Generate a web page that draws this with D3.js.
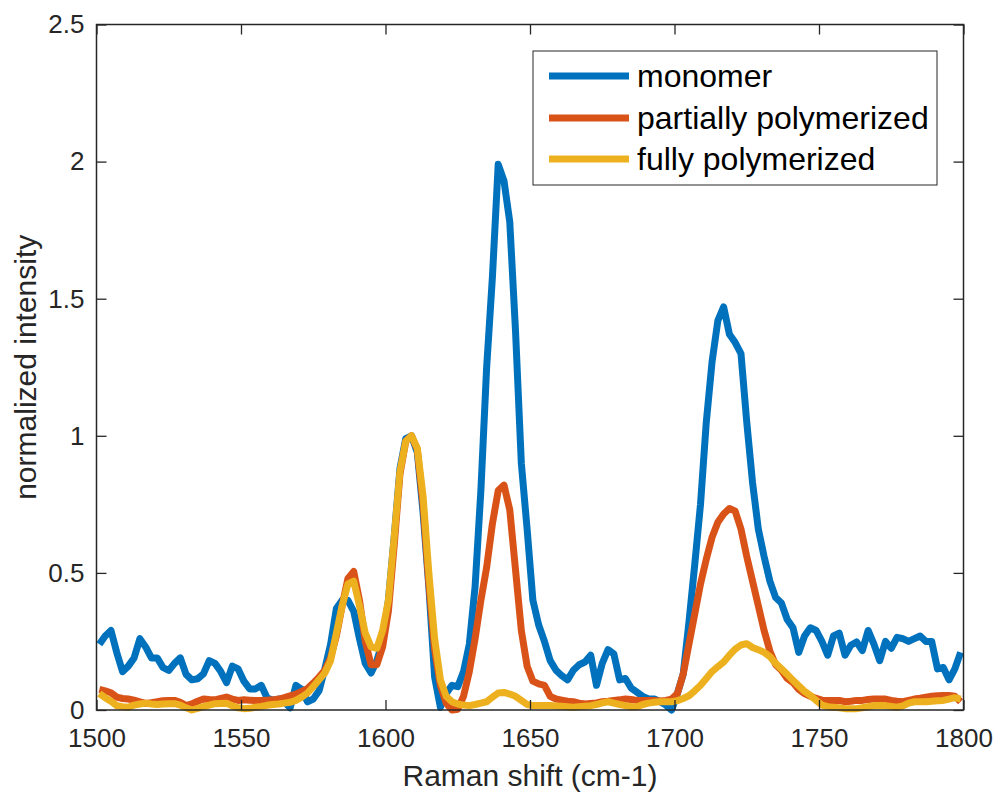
<!DOCTYPE html>
<html>
<head>
<meta charset="utf-8">
<script src="https://cdn.jsdelivr.net/npm/d3@7"></script>
<style>
  html, body { margin: 0; padding: 0; background: #fff; }
  svg { display: block; }
  text { font-family: "Liberation Sans", Arial, Helvetica, sans-serif; fill: #262626; }
</style>
</head>
<body>
<svg id="chart" width="995" height="792"></svg>
<script>
// Raman shift (cm-1)
const wavenumbers = [
  1501,1503,1505,1507,1509,1511,1513,1515,1517,1519,
  1521,1523,1525,1527,1529,1531,1533,1535,1537,1539,
  1541,1543,1545,1547,1549,1551,1553,1555,1557,1559,
  1561,1563,1565,1567,1569,1571,1573,1575,1577,1579,
  1581,1583,1585,1587,1589,1591,1593,1595,1597,1599,
  1601,1603,1605,1607,1609,1611,1613,1615,1617,1619,
  1621,1623,1625,1627,1629,1631,1633,1635,1637,1639,
  1641,1643,1645,1647,1649,1651,1653,1655,1657,1659,
  1661,1663,1665,1667,1669,1671,1673,1675,1677,1679,
  1681,1683,1685,1687,1689,1691,1693,1695,1697,1699,
  1701,1703,1705,1707,1709,1711,1713,1715,1717,1719,
  1721,1723,1725,1727,1729,1731,1733,1735,1737,1739,
  1741,1743,1745,1747,1749,1751,1753,1755,1757,1759,
  1761,1763,1765,1767,1769,1771,1773,1775,1777,1779,
  1781,1783,1785,1787,1789,1791,1793,1795,1797,1799
];

const monomer = [
  0.24,0.27,0.29,0.21,0.14,0.16,0.19,0.26,0.23,0.19,
  0.19,0.155,0.144,0.17,0.19,0.13,0.11,0.114,0.132,0.18,
  0.17,0.14,0.10,0.16,0.15,0.105,0.077,0.077,0.09,0.045,
  0.035,0.04,0.03,0.008,0.09,0.075,0.03,0.04,0.07,0.15,
  0.24,0.37,0.40,0.40,0.36,0.26,0.17,0.135,0.18,0.25,
  0.40,0.63,0.88,0.99,1.00,0.94,0.72,0.45,0.12,0.01,
  0.06,0.09,0.085,0.14,0.24,0.45,0.80,1.25,1.58,1.99,
  1.93,1.78,1.38,0.90,0.66,0.40,0.31,0.25,0.18,0.145,
  0.125,0.11,0.145,0.165,0.175,0.20,0.09,0.17,0.22,0.205,
  0.11,0.115,0.08,0.065,0.05,0.04,0.04,0.03,0.018,0.0,
  0.06,0.13,0.32,0.53,0.75,1.05,1.27,1.42,1.47,1.37,
  1.34,1.30,1.05,0.83,0.66,0.56,0.47,0.41,0.39,0.33,
  0.30,0.21,0.27,0.30,0.29,0.25,0.20,0.27,0.28,0.20,
  0.236,0.248,0.217,0.29,0.24,0.18,0.25,0.225,0.265,0.26,
  0.25,0.26,0.27,0.25,0.25,0.15,0.155,0.11,0.15,0.21
];

const partiallyPolymerized = [
  0.075,0.07,0.063,0.047,0.042,0.04,0.036,0.03,0.024,0.027,
  0.03,0.034,0.035,0.035,0.028,0.016,0.022,0.032,0.04,0.038,
  0.037,0.042,0.047,0.04,0.035,0.037,0.036,0.035,0.035,0.036,
  0.037,0.04,0.045,0.052,0.058,0.068,0.078,0.098,0.12,0.145,
  0.19,0.27,0.38,0.48,0.505,0.40,0.25,0.165,0.165,0.23,
  0.36,0.60,0.86,0.98,1.00,0.95,0.75,0.46,0.22,0.09,
  0.025,0.0,0.003,0.05,0.14,0.26,0.40,0.52,0.68,0.80,
  0.82,0.73,0.51,0.29,0.16,0.105,0.095,0.09,0.05,0.04,
  0.036,0.032,0.03,0.025,0.022,0.024,0.026,0.03,0.032,0.035,
  0.037,0.04,0.038,0.035,0.035,0.035,0.035,0.033,0.035,0.04,
  0.06,0.13,0.24,0.35,0.46,0.55,0.63,0.685,0.715,0.735,
  0.725,0.66,0.56,0.47,0.38,0.29,0.215,0.165,0.145,0.115,
  0.1,0.075,0.06,0.05,0.043,0.036,0.035,0.035,0.035,0.03,
  0.032,0.035,0.035,0.038,0.04,0.04,0.04,0.035,0.032,0.03,
  0.035,0.04,0.043,0.047,0.05,0.052,0.053,0.053,0.05,0.03
];

const fullyPolymerized = [
  0.06,0.045,0.032,0.016,0.012,0.01,0.018,0.022,0.025,0.022,
  0.02,0.022,0.023,0.023,0.018,0.008,0.0,0.006,0.012,0.018,
  0.023,0.024,0.025,0.015,0.008,0.005,0.006,0.01,0.013,0.017,
  0.02,0.022,0.025,0.028,0.035,0.047,0.062,0.085,0.11,0.135,
  0.18,0.28,0.38,0.46,0.47,0.38,0.28,0.23,0.225,0.29,
  0.40,0.63,0.87,0.98,1.00,0.955,0.78,0.50,0.26,0.11,
  0.05,0.03,0.022,0.018,0.016,0.02,0.025,0.03,0.047,0.062,
  0.064,0.058,0.05,0.035,0.02,0.016,0.016,0.016,0.016,0.015,
  0.014,0.012,0.01,0.012,0.014,0.016,0.02,0.026,0.03,0.025,
  0.02,0.016,0.012,0.012,0.02,0.025,0.028,0.03,0.03,0.03,
  0.034,0.042,0.052,0.07,0.09,0.115,0.14,0.158,0.175,0.2,
  0.222,0.237,0.242,0.228,0.22,0.21,0.195,0.17,0.15,0.13,
  0.108,0.088,0.068,0.053,0.035,0.018,0.012,0.01,0.008,0.005,
  0.005,0.005,0.008,0.012,0.016,0.016,0.016,0.013,0.01,0.015,
  0.025,0.03,0.03,0.03,0.032,0.034,0.035,0.04,0.045,0.04
];

const seriesNames = ["monomer", "partially polymerized", "fully polymerized"];
const seriesColors = ["#0072BD", "#D95319", "#EDB120"];
const xTicks = [1500, 1550, 1600, 1650, 1700, 1750, 1800];
const yTicks = [0, 0.5, 1, 1.5, 2, 2.5];
const xLabel = "Raman shift (cm-1)";
const yLabel = "normalized intensity";

const seriesValues = [monomer, partiallyPolymerized, fullyPolymerized];

const svg = d3.select("#chart");
const plotLeft = 96.5, plotRight = 963.5, plotTop = 24.5, plotBottom = 710;
const x = d3.scaleLinear().domain([1500, 1800]).range([plotLeft, plotRight]);
const y = d3.scaleLinear().domain([0, 2.5]).range([plotBottom, plotTop]);
const axisColor = "#262626";

// data lines
const line = d3.line().x(d => x(d[0])).y(d => y(d[1]));
seriesValues.forEach((vals, i) => {
  const pts = wavenumbers.map((w, j) => [w, vals[j]]);
  svg.append("path")
    .datum(pts)
    .attr("d", line)
    .attr("fill", "none")
    .attr("stroke", seriesColors[i])
    .attr("stroke-width", 7)
    .attr("stroke-linejoin", "round")
    .attr("stroke-linecap", "butt");
});

// axes
function styleAxis(g) {
  g.select(".domain").remove();
  g.selectAll(".tick line").attr("stroke", axisColor).attr("stroke-width", 1.3);
  g.selectAll(".tick text").attr("fill", axisColor).style("font-size", "26px");
}
svg.append("g").attr("transform", `translate(0,${plotBottom})`)
  .call(d3.axisBottom(x).tickValues(xTicks).tickFormat(d3.format("d")).tickSize(-10).tickPadding(19))
  .call(styleAxis);
svg.append("g").attr("transform", `translate(0,${plotTop})`)
  .call(d3.axisTop(x).tickValues(xTicks).tickFormat("").tickSize(-10))
  .call(styleAxis);
svg.append("g").attr("transform", `translate(${plotLeft},0)`)
  .call(d3.axisLeft(y).tickValues(yTicks).tickFormat(d => String(d)).tickSize(-10).tickPadding(12))
  .call(styleAxis);
svg.append("g").attr("transform", `translate(${plotRight},0)`)
  .call(d3.axisRight(y).tickValues(yTicks).tickFormat("").tickSize(-10))
  .call(styleAxis);

svg.append("rect")
  .attr("x", plotLeft).attr("y", plotTop)
  .attr("width", plotRight - plotLeft).attr("height", plotBottom - plotTop)
  .attr("fill", "none").attr("stroke", axisColor).attr("stroke-width", 1.5);

// axis labels
svg.append("text")
  .attr("x", (plotLeft + plotRight) / 2).attr("y", 786)
  .attr("text-anchor", "middle")
  .style("font-size", "30px")
  .text(xLabel);
svg.append("text")
  .attr("transform", `translate(36,${(plotTop + plotBottom) / 2}) rotate(-90)`)
  .attr("text-anchor", "middle")
  .style("font-size", "30px")
  .text(yLabel);

// legend
const legend = svg.append("g");
legend.append("rect")
  .attr("x", 533).attr("y", 51).attr("width", 404).attr("height", 134)
  .attr("fill", "#fff").attr("stroke", axisColor).attr("stroke-width", 1);
const rowY = [76, 118, 159];
seriesNames.forEach((name, i) => {
  legend.append("line")
    .attr("x1", 549).attr("x2", 629)
    .attr("y1", rowY[i]).attr("y2", rowY[i])
    .attr("stroke", seriesColors[i]).attr("stroke-width", 7);
  legend.append("text")
    .attr("x", 637).attr("y", rowY[i])
    .attr("dy", "0.35em")
    .style("font-size", "32px")
    .style("fill", "#000")
    .text(name);
});
</script>
</body>
</html>
